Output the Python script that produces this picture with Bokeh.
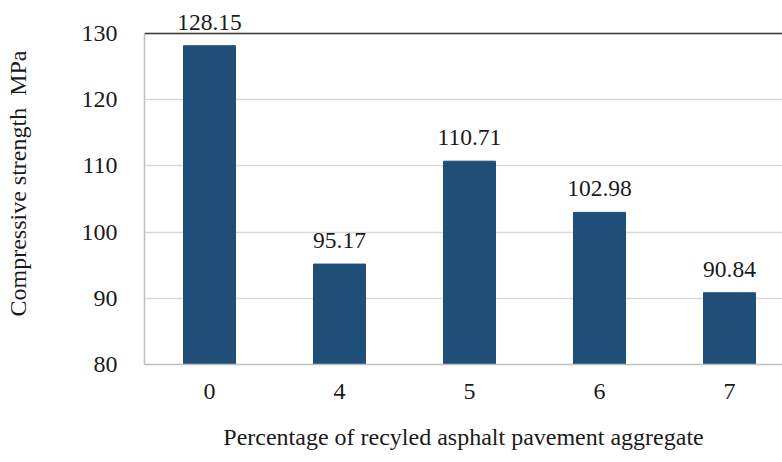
from bokeh.plotting import figure
from bokeh.models import ColumnDataSource, LabelSet, Span, FixedTicker, Range1d
from bokeh.embed import file_html
from bokeh.resources import INLINE

categories = ["0", "4", "5", "6", "7"]
strength = [128.15, 95.17, 110.71, 102.98, 90.84]
y_ticks = [80, 90, 100, 110, 120, 130]

xs = list(range(len(categories)))
labels = [f"{v:.2f}" for v in strength]
src = ColumnDataSource(dict(x=xs, top=strength, label=labels))

FONT = "Liberation Serif"
PX_PER_UNIT = 331 / 50
TOP_PAD = 31
p = figure(width=782, height=462, output_backend="svg", toolbar_location=None,
           x_range=Range1d(-0.5, -0.5 + 638 / 130),
           y_range=Range1d(80, 130 + TOP_PAD / PX_PER_UNIT),
           min_border_left=144, min_border_right=0, min_border_top=33 - TOP_PAD,
           min_border_bottom=98)
p.outline_line_color = None
p.background_fill_color = "white"

p.vbar(x="x", top="top", bottom=80, width=0.4, source=src, color="#1F4E79")

p.add_layout(LabelSet(x="x", y="top", text="label", source=src, text_align="center",
                      text_baseline="alphabetic", y_offset=16, text_font=FONT,
                      text_font_size="23.5px", text_color="#1a1a1a"))

p.add_layout(Span(location=130, dimension="width", line_color="#3a3a3a", line_width=1.5))

p.xaxis.ticker = FixedTicker(ticks=xs)
p.xaxis.major_label_overrides = {i: c for i, c in zip(xs, categories)}
p.yaxis.ticker = FixedTicker(ticks=y_ticks)
p.yaxis.bounds = (80, 130)

for ax in (p.xaxis[0], p.yaxis[0]):
    ax.major_tick_line_color = None
    ax.minor_tick_line_color = None
    ax.axis_line_color = "#BFBFBF"
    ax.axis_line_width = 1.5
    ax.major_label_text_font = FONT
    ax.major_label_text_font_size = "24px"
    ax.major_label_text_color = "#1a1a1a"
    ax.axis_label_text_font = FONT
    ax.axis_label_text_font_size = "24px"
    ax.axis_label_text_font_style = "normal"
    ax.axis_label_text_color = "#1a1a1a"

p.xaxis.major_label_standoff = 13
p.yaxis.major_label_standoff = 21
p.xaxis.axis_label = "Percentage of recyled asphalt pavement aggregate"
p.yaxis.axis_label = "Compressive strength\u00a0 MPa"
p.xaxis.axis_label_standoff = 22
p.yaxis.axis_label_standoff = 48

p.xgrid.grid_line_color = None
p.ygrid.grid_line_color = "#D9D9D9"
p.ygrid.grid_line_width = 1.5

open("out.html", "w").write(file_html(p, INLINE))
